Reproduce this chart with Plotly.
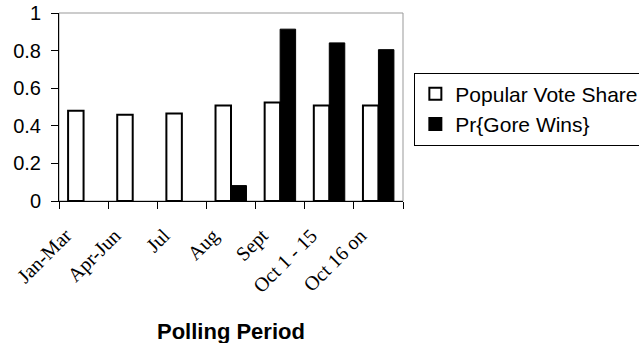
import plotly.graph_objects as go

categories = ["Jan-Mar", "Apr-Jun", "Jul", "Aug", "Sept", "Oct 1 - 15", "Oct 16 on"]
vote_share = [0.48, 0.459, 0.466, 0.508, 0.524, 0.508, 0.508]
pr_gore = [None, None, None, 0.082, 0.914, 0.841, 0.805]
y_ticks = [0, 0.2, 0.4, 0.6, 0.8, 1]
y_tick_labels = ["0", "0.2", "0.4", "0.6", "0.8", "1"]

sans = "Liberation Sans, Arial, Helvetica, sans-serif"
serif = "Liberation Serif, Times New Roman, serif"

fig = go.Figure()
fig.add_trace(go.Bar(
    x=categories, y=vote_share, name="Popular Vote Share",
    marker=dict(color="white", line=dict(color="black", width=2)),
    legendgroup="a",
))
fig.add_trace(go.Bar(
    x=categories, y=pr_gore, name="Pr{Gore Wins}",
    marker=dict(color="black", line=dict(color="black", width=1)),
    legendgroup="b",
))

fig.update_layout(
    width=639, height=343,
    margin=dict(l=59, r=236, t=13, b=142, autoexpand=False),
    paper_bgcolor="white", plot_bgcolor="white",
    barmode="group", bargap=0.37, bargroupgap=0,
    font=dict(family=sans, color="black", size=19),
    showlegend=True,
    legend=dict(
        x=1.033, y=0.683, xanchor="left", yanchor="top",
        bgcolor="white", bordercolor="black", borderwidth=1,
        font=dict(family=sans, size=21, color="black"),
        tracegroupgap=0, itemsizing="constant",
    ),
    shapes=[dict(type="rect", xref="paper", yref="paper", x0=0, x1=1, y0=0, y1=1,
                 line=dict(color="#999999", width=1), layer="below")],
    annotations=[dict(text="<b>Polling Period</b>", xref="paper", yref="paper",
                      x=0.5, y=-0.693, xanchor="center", yanchor="middle",
                      showarrow=False, font=dict(family=sans, size=22, color="black"))],
)

fig.update_xaxes(
    type="category", showline=True, linecolor="black", linewidth=1,
    ticks="outside", tickson="boundaries", ticklen=7, tickcolor="black",
    tickangle=-45, tickfont=dict(family=serif, size=20, color="black"),
    ticklabelstandoff=14, ticklabelshift=-18,
    showgrid=False, zeroline=False, automargin=False,
)
fig.update_yaxes(
    range=[0, 1], tickvals=y_ticks, ticktext=y_tick_labels,
    showline=True, linecolor="black", linewidth=1,
    ticks="outside", ticklen=7, tickcolor="black",
    tickfont=dict(family=sans, size=20, color="black"),
    ticklabelstandoff=6,
    showgrid=False, zeroline=False, automargin=False,
)

fig.write_html("out.html")
